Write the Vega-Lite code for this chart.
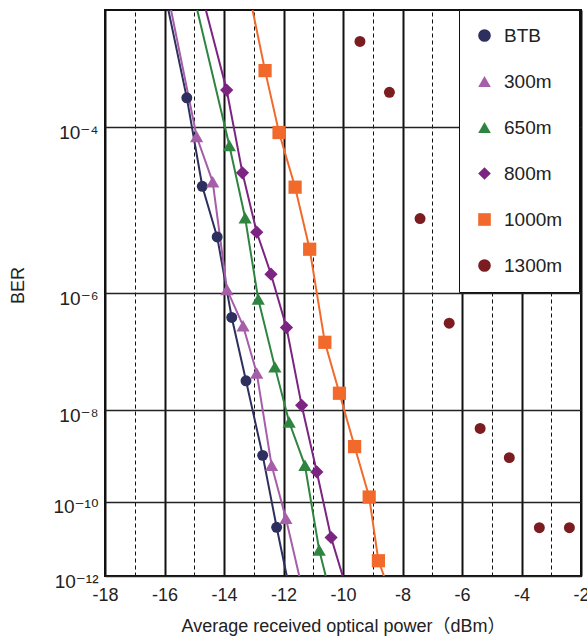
{
  "$schema": "https://vega.github.io/schema/vega-lite/v6.json",
  "width": 476,
  "height": 566,
  "autosize": {"type": "none"},
  "padding": {"left": 105, "top": 10, "right": 6, "bottom": 64},
  "background": "white",
  "config": {
    "font": "Liberation Sans, Noto Sans CJK JP, DejaVu Sans",
    "view": {"stroke": "#111111", "strokeWidth": 2},
    "legend": {
      "orient": "none",
      "legendX": 354,
      "legendY": 0,
      "padding": 16,
      "rowPadding": 26,
      "labelFontSize": 19,
      "labelOffset": 10,
      "symbolSize": 160,
      "symbolStrokeWidth": 0,
      "fillColor": "white",
      "strokeColor": "#111111",
      "labelColor": "#222222",
      "labelFont": "Liberation Sans, Noto Sans CJK JP, DejaVu Sans"
    }
  },
  "data": {
    "values": [
      {"series": "BTB", "kind": "end", "power": -15.87, "exp": 3},
      {"series": "BTB", "kind": "measured", "power": -15.25, "exp": 3.72},
      {"series": "BTB", "kind": "measured", "power": -14.73, "exp": 4.62},
      {"series": "BTB", "kind": "measured", "power": -14.23, "exp": 5.23},
      {"series": "BTB", "kind": "measured", "power": -13.74, "exp": 6.37},
      {"series": "BTB", "kind": "measured", "power": -13.26, "exp": 7.44},
      {"series": "BTB", "kind": "measured", "power": -12.70, "exp": 8.93},
      {"series": "BTB", "kind": "measured", "power": -12.23, "exp": 10.65},
      {"series": "BTB", "kind": "end", "power": -11.89, "exp": 12},

      {"series": "300m", "kind": "end", "power": -15.78, "exp": 3},
      {"series": "300m", "kind": "measured", "power": -14.92, "exp": 4.09},
      {"series": "300m", "kind": "measured", "power": -14.38, "exp": 4.57},
      {"series": "300m", "kind": "measured", "power": -13.90, "exp": 5.95},
      {"series": "300m", "kind": "measured", "power": -13.36, "exp": 6.50},
      {"series": "300m", "kind": "measured", "power": -12.90, "exp": 7.30},
      {"series": "300m", "kind": "measured", "power": -12.40, "exp": 9.15},
      {"series": "300m", "kind": "measured", "power": -11.92, "exp": 10.42},
      {"series": "300m", "kind": "end", "power": -11.47, "exp": 12},

      {"series": "650m", "kind": "end", "power": -14.90, "exp": 3},
      {"series": "650m", "kind": "measured", "power": -13.82, "exp": 4.18},
      {"series": "650m", "kind": "measured", "power": -13.29, "exp": 4.99},
      {"series": "650m", "kind": "measured", "power": -12.85, "exp": 6.09},
      {"series": "650m", "kind": "measured", "power": -12.29, "exp": 7.19},
      {"series": "650m", "kind": "measured", "power": -11.81, "exp": 8.23},
      {"series": "650m", "kind": "measured", "power": -11.28, "exp": 9.15},
      {"series": "650m", "kind": "measured", "power": -10.80, "exp": 11.26},
      {"series": "650m", "kind": "end", "power": -10.58, "exp": 12},

      {"series": "800m", "kind": "end", "power": -14.61, "exp": 3},
      {"series": "800m", "kind": "measured", "power": -13.91, "exp": 3.65},
      {"series": "800m", "kind": "measured", "power": -13.38, "exp": 4.47},
      {"series": "800m", "kind": "measured", "power": -12.90, "exp": 5.17},
      {"series": "800m", "kind": "measured", "power": -12.42, "exp": 5.73},
      {"series": "800m", "kind": "measured", "power": -11.90, "exp": 6.53},
      {"series": "800m", "kind": "measured", "power": -11.39, "exp": 7.90},
      {"series": "800m", "kind": "measured", "power": -10.88, "exp": 9.30},
      {"series": "800m", "kind": "measured", "power": -10.40, "exp": 10.92},
      {"series": "800m", "kind": "end", "power": -10.01, "exp": 12},

      {"series": "1000m", "kind": "end", "power": -13.04, "exp": 3},
      {"series": "1000m", "kind": "measured", "power": -12.62, "exp": 3.48},
      {"series": "1000m", "kind": "measured", "power": -12.15, "exp": 4.05},
      {"series": "1000m", "kind": "measured", "power": -11.61, "exp": 4.63},
      {"series": "1000m", "kind": "measured", "power": -11.12, "exp": 5.39},
      {"series": "1000m", "kind": "measured", "power": -10.61, "exp": 6.77},
      {"series": "1000m", "kind": "measured", "power": -10.12, "exp": 7.67},
      {"series": "1000m", "kind": "measured", "power": -9.61, "exp": 8.74},
      {"series": "1000m", "kind": "measured", "power": -9.12, "exp": 9.89},
      {"series": "1000m", "kind": "measured", "power": -8.81, "exp": 11.56},
      {"series": "1000m", "kind": "end", "power": -8.62, "exp": 12},

      {"series": "1300m", "kind": "measured", "power": -9.43, "exp": 3.24},
      {"series": "1300m", "kind": "measured", "power": -8.44, "exp": 3.67},
      {"series": "1300m", "kind": "measured", "power": -7.41, "exp": 5.00},
      {"series": "1300m", "kind": "measured", "power": -6.43, "exp": 6.46},
      {"series": "1300m", "kind": "measured", "power": -5.39, "exp": 8.36},
      {"series": "1300m", "kind": "measured", "power": -4.41, "exp": 8.98},
      {"series": "1300m", "kind": "measured", "power": -3.40, "exp": 10.66},
      {"series": "1300m", "kind": "measured", "power": -2.39, "exp": 10.66}
    ]
  },
  "encoding": {
    "x": {
      "field": "power",
      "type": "quantitative",
      "scale": {"domain": [-18, -2], "nice": false, "zero": false},
      "axis": {
        "title": "Average received optical power（dBm）",
        "values": [-18, -17, -16, -15, -14, -13, -12, -11, -10, -9, -8, -7, -6, -5, -4, -3, -2],
        "labelExpr": "datum.value % 2 === 0 ? '' + datum.value : ''",
        "labelOverlap": false,
        "labelFlush": false,
        "ticks": false,
        "domain": false,
        "grid": true,
        "gridColor": "#111111",
        "gridOpacity": 1,
        "gridWidth": {"condition": {"test": "datum.value % 2 !== 0", "value": 1}, "value": 2},
        "gridDash": {"condition": {"test": "datum.value % 2 !== 0", "value": [4, 3]}, "value": []},
        "labelFontSize": 18,
        "labelColor": "#222222",
        "labelPadding": 10,
        "titleFontSize": 18,
        "titleFontWeight": "normal",
        "titleColor": "#222222",
        "titlePadding": 13
      }
    },
    "y": {
      "field": "exp",
      "type": "quantitative",
      "scale": {"type": "log", "domain": [3, 12], "reverse": true, "nice": false},
      "axis": {
        "title": "BER",
        "values": [4, 6, 8, 10, 12],
        "labelExpr": "'10⁻' + (datum.value == 4 ? '⁴' : datum.value == 6 ? '⁶' : datum.value == 8 ? '⁸' : datum.value == 10 ? '¹⁰' : '¹²')",
        "labelOverlap": false,
        "ticks": false,
        "domain": false,
        "grid": true,
        "gridColor": "#222222",
        "gridOpacity": 1,
        "gridWidth": 1.5,
        "labelFontSize": 19,
        "labelColor": "#222222",
        "labelPadding": 7,
        "labelOffset": 5,
        "titleFontSize": 18,
        "titleFontWeight": "normal",
        "titleColor": "#222222",
        "titleX": -87,
        "titleY": 275,
        "titleBaseline": "middle",
        "titleAlign": "center"
      }
    }
  },
  "layer": [
    {
      "transform": [{"filter": "datum.series !== '1300m'"}],
      "mark": {"type": "line", "strokeWidth": 2, "clip": true},
      "encoding": {
        "stroke": {
          "field": "series",
          "type": "nominal",
          "scale": {
            "domain": ["BTB", "300m", "650m", "800m", "1000m"],
            "range": ["#2d2f5e", "#a65ea9", "#2e8540", "#7b2481", "#f26a2b"]
          },
          "legend": null
        },
        "order": {"field": "exp", "type": "quantitative"}
      }
    },
    {
      "transform": [{"filter": "datum.kind === 'measured' && (datum.series === 'BTB' || datum.series === '1300m')"}],
      "mark": {"type": "point", "filled": true, "opacity": 1, "size": 120},
      "encoding": {
        "color": {
          "field": "series",
          "type": "nominal",
          "title": null,
          "scale": {
            "domain": ["BTB", "300m", "650m", "800m", "1000m", "1300m"],
            "range": ["#2d2f5e", "#a65ea9", "#2e8540", "#7b2481", "#f26a2b", "#7b1c20"]
          }
        },
        "shape": {
          "field": "series",
          "type": "nominal",
          "title": null,
          "scale": {
            "domain": ["BTB", "300m", "650m", "800m", "1000m", "1300m"],
            "range": ["circle", "triangle-up", "triangle-up", "diamond", "square", "circle"]
          }
        }
      }
    },
    {
      "transform": [{"filter": "datum.kind === 'measured' && datum.series !== 'BTB' && datum.series !== '1300m'"}],
      "mark": {"type": "point", "filled": true, "opacity": 1, "size": 175},
      "encoding": {
        "color": {
          "field": "series",
          "type": "nominal",
          "title": null,
          "scale": {
            "domain": ["BTB", "300m", "650m", "800m", "1000m", "1300m"],
            "range": ["#2d2f5e", "#a65ea9", "#2e8540", "#7b2481", "#f26a2b", "#7b1c20"]
          }
        },
        "shape": {
          "field": "series",
          "type": "nominal",
          "title": null,
          "scale": {
            "domain": ["BTB", "300m", "650m", "800m", "1000m", "1300m"],
            "range": ["circle", "triangle-up", "triangle-up", "diamond", "square", "circle"]
          }
        }
      }
    }
  ]
}
